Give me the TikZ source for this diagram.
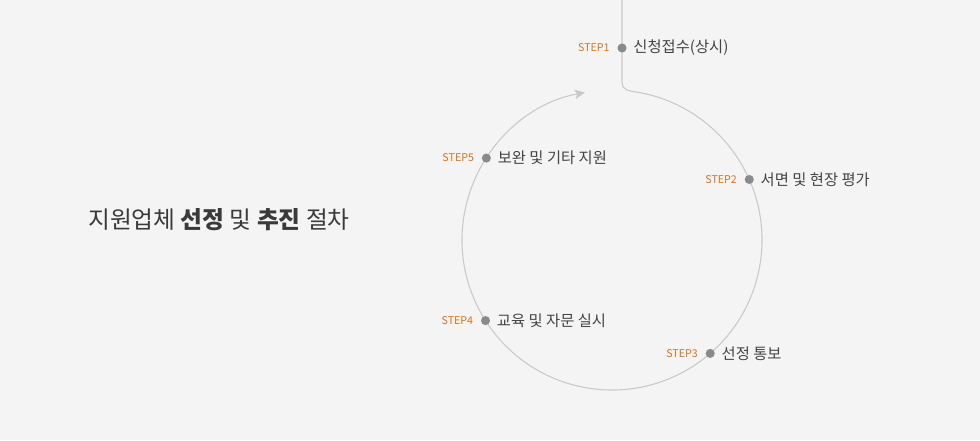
\documentclass[tikz,border=0pt]{standalone}
\usepackage{fontspec}
\setmainfont{Noto Sans CJK KR}
\usetikzlibrary{arrows.meta, positioning, calc}
\usepackage{xcolor}
\definecolor{bggray}{HTML}{F4F4F4}
\definecolor{linegray}{HTML}{C9C9C9}
\definecolor{dotgray}{HTML}{8A8A8A}
\definecolor{steporange}{HTML}{D9731F}
\definecolor{labelgray}{HTML}{444444}
\definecolor{titlegray}{HTML}{3A3A3A}

\begin{document}
\begin{tikzpicture}[
    x=0.75pt, y=0.75pt,
    dot/.style={circle, fill=dotgray, inner sep=0pt, minimum size=6.8pt},
    steptag/.style={font=\fontsize{8}{9}\selectfont, text=steporange, inner sep=0pt},
    stepname/.style={font=\fontsize{11.5}{13}\selectfont, text=labelgray, inner sep=0pt},
    title/.style={font=\fontsize{17.8}{20}\selectfont, text=titlegray, inner sep=0pt},
    flow/.style={draw=linegray, line width=0.8pt}
]
\useasboundingbox[fill=bggray] (0,0) rectangle (980,440);

% Circle centre and flow line
\coordinate (c) at (612,200);
\coordinate (top) at (622,440);
\draw[flow, -{Stealth[length=7.5pt, width=7pt, inset=1.5pt]}]
    (top) -- (622,358) .. controls (622,349) and (630,349.1) .. ($(c)+(80:150)$)
    arc[start angle=80, end angle=-259.6, radius=150];

% Nodes
\node[dot] (s1) at (622,392) {};
\node[dot] (s2) at ($(c)+(23.8:150)$) {};
\node[dot] (s3) at ($(c)+(-49.1:150)$) {};
\node[dot] (s4) at ($(c)+(-147.5:150)$) {};
\node[dot] (s5) at ($(c)+(146.9:150)$) {};

\foreach \s/\name in {1/신청접수(상시), 2/서면 및 현장 평가, 3/선정 통보, 4/교육 및 자문 실시, 5/보완 및 기타 지원} {
  \node[steptag, left=5.5pt of s\s] (tag\s) {STEP\s};
  \node[stepname, right=4.8pt of s\s] (name\s) {\name};
}

% Title
\node[title, anchor=west] (heading) at (88,220)
    {지원업체 \textbf{선정} 및 \textbf{추진} 절차};

\end{tikzpicture}
\end{document}
